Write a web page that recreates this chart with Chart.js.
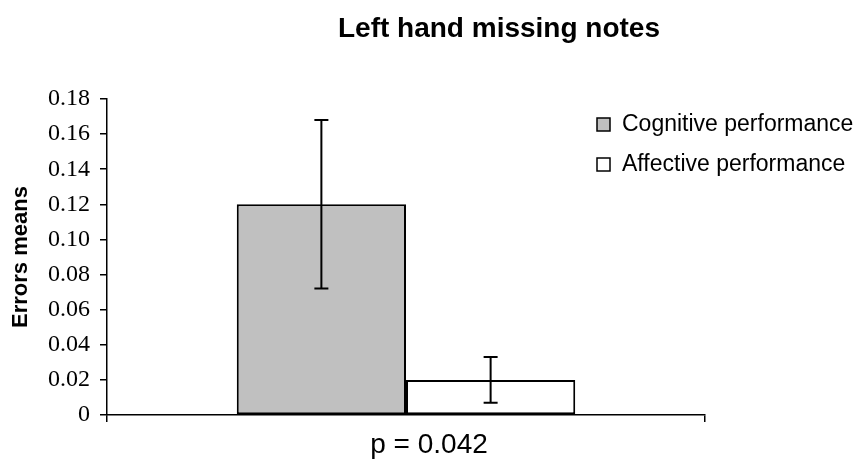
<!DOCTYPE html>
<html>
<head>
<meta charset="utf-8">
<script src="https://cdn.jsdelivr.net/npm/chart.js@4/dist/chart.umd.min.js"></script>
<style>html,body{margin:0;background:#fff}</style>
</head>
<body>
<canvas id="chart" width="866" height="461"></canvas>
<script>
const categories = ['p = 0.042'];
const seriesNames = ['Cognitive performance', 'Affective performance'];
const cognitiveMeans = [0.12];
const affectiveMeans = [0.02];
const cognitiveErrors = [0.048];
const affectiveErrors = [0.013];
const titleText = 'Left hand missing notes';

const colors = ['#c0c0c0', '#ffffff'];
const errors = [cognitiveErrors, affectiveErrors];

// error bars + title + legend, drawn after the bars
const extras = {
  id: 'extras',
  afterDatasetsDraw(chart) {
    const ctx = chart.ctx;
    const y = chart.scales.y;
    ctx.save();
    ctx.strokeStyle = '#000';
    ctx.lineWidth = 2;
    chart.data.datasets.forEach((ds, i) => {
      chart.getDatasetMeta(i).data.forEach((bar, j) => {
        const v = ds.data[j], e = errors[i][j];
        const top = y.getPixelForValue(v + e);
        const bot = y.getPixelForValue(v - e);
        ctx.beginPath();
        ctx.moveTo(bar.x, top); ctx.lineTo(bar.x, bot);
        ctx.moveTo(bar.x - 7, top); ctx.lineTo(bar.x + 7, top);
        ctx.moveTo(bar.x - 7, bot); ctx.lineTo(bar.x + 7, bot);
        ctx.stroke();
      });
    });

    ctx.fillStyle = '#000';
    ctx.font = 'bold 28px "Liberation Sans", Arial, sans-serif';
    ctx.textAlign = 'center';
    ctx.textBaseline = 'middle';
    ctx.fillText(titleText, 499, 29);

    ctx.font = '23px "Liberation Sans", Arial, sans-serif';
    ctx.textAlign = 'left';
    ctx.lineWidth = 1.5;
    seriesNames.forEach((name, i) => {
      const cy = 125 + i * 40;
      ctx.fillStyle = colors[i];
      ctx.fillRect(597, cy - 7, 13, 13);
      ctx.strokeRect(597, cy - 7, 13, 13);
      ctx.fillStyle = '#000';
      ctx.fillText(name, 622, cy);
    });
    ctx.restore();
  }
};

new Chart(document.getElementById('chart'), {
  type: 'bar',
  data: {
    labels: categories,
    datasets: [
      { label: seriesNames[0], data: cognitiveMeans, backgroundColor: colors[0] },
      { label: seriesNames[1], data: affectiveMeans, backgroundColor: colors[1] }
    ]
  },
  options: {
    responsive: false,
    animation: false,
    layout: { padding: { top: 99, right: 161, left: 0, bottom: 0 } },
    datasets: {
      bar: {
        borderColor: '#000',
        borderWidth: 2,
        borderSkipped: false,
        categoryPercentage: 0.566,
        barPercentage: 1
      }
    },
    plugins: {
      legend: { display: false },
      title: { display: false },
      tooltip: { enabled: false }
    },
    scales: {
      x: {
        afterFit: (s) => { s.height = 46; },
        grid: { offset: true, drawOnChartArea: false, tickLength: 7, color: '#000', lineWidth: 1.5 },
        border: { color: '#000', width: 1.5 },
        ticks: { color: '#000', padding: 6, labelOffset: 23, font: { family: '"Liberation Sans", Arial, sans-serif', size: 28 } }
      },
      y: {
        min: 0,
        max: 0.18,
        afterFit: (s) => { s.width = 107; },
        grid: { drawOnChartArea: false, tickLength: 7, color: '#000', lineWidth: 1.5 },
        border: { color: '#000', width: 1.5 },
        ticks: {
          stepSize: 0.02,
          padding: 10,
          color: '#000',
          font: { family: '"Liberation Serif", "Times New Roman", serif', size: 24 },
          callback: (v) => v === 0 ? '0' : v.toFixed(2)
        },
        title: {
          display: true,
          text: 'Errors means',
          color: '#000',
          padding: { top: 8 },
          font: { family: '"Liberation Sans", Arial, sans-serif', size: 22, weight: 'bold' }
        }
      }
    }
  },
  plugins: [extras]
});
</script>
</body>
</html>
